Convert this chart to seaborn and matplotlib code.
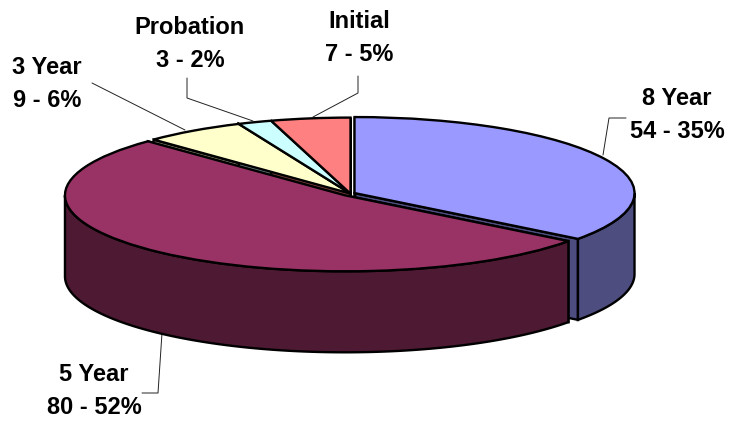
import numpy as np
import matplotlib
matplotlib.use('Agg')
import matplotlib.pyplot as plt
import seaborn as sns

# --- data ---
categories = ['8 Year', '5 Year', '3 Year', 'Probation', 'Initial']
counts = [54, 80, 9, 3, 7]
percents = [35, 52, 6, 2, 5]

top_colors = ['#9999FF', '#993366', '#FFFFCC', '#CCFFFF', '#FF8080']
side_colors = ['#4D4D80', '#4D1933', '#808066', '#668080', '#804040']
explode = [0.016, 0.03, 0, 0, 0]

label_centers = [(677, 115), (94, 391), (47, 84), (190, 44), (359, 38)]
leaders = [
    [(603, 155), (609, 118), (626, 118)],
    [(162, 333), (158, 393), (142, 393)],
    [(92, 83), (185, 130)],
    [(187, 78), (187, 98), (253, 121)],
    [(358, 76), (358, 93), (313, 117)],
]

# pie geometry in image pixels
cx, cy = 350.5, 193.6
rx, ry = 280, 76
depth = 81 / ry


def px(x, y):
    return (x - cx) / rx, (cy - y) / ry


sns.set_theme(style='white')
plt.rcParams['font.family'] = ['Liberation Sans', 'DejaVu Sans']

fig = plt.figure(figsize=(7.3, 4.21), dpi=100, facecolor='white')
ax = fig.add_axes([0, 0, 1, 1])

wedges, _ = ax.pie(counts, colors=top_colors, explode=explode, startangle=90,
                   counterclock=False, radius=1,
                   wedgeprops={'edgecolor': 'black', 'linewidth': 1.7, 'zorder': 5})

# squash the pie into an ellipse by scaling the axes
ax.set_aspect('auto')
ax.set_xlim(-cx / rx, (730 - cx) / rx)
ax.set_ylim((cy - 421) / ry, cy / ry)
ax.axis('off')

# cut faces of the slices
for w, color in zip(wedges, side_colors):
    x0, y0 = w.center
    for theta in (w.theta1, w.theta2):
        x1 = x0 + np.cos(np.radians(theta))
        y1 = y0 + np.sin(np.radians(theta))
        ax.fill([x0, x1, x1, x0], [y0, y1, y1 - depth, y0 - depth],
                facecolor=color, edgecolor='black', linewidth=1.7, zorder=2)

# outer rim, only the part facing the viewer
for w, color in zip(wedges, side_colors):
    x0, y0 = w.center
    t = np.radians(np.linspace(w.theta1, w.theta2, 200))
    t = t[np.sin(t) <= 0]
    if len(t) == 0:
        continue
    xs = x0 + np.cos(t)
    ys = y0 + np.sin(t)
    ax.fill(np.r_[xs, xs[::-1]], np.r_[ys, ys[::-1] - depth],
            facecolor=color, edgecolor='black', linewidth=1.7, zorder=3)

# leader lines
for pts in leaders:
    xy = np.array([px(*p) for p in pts])
    ax.plot(xy[:, 0], xy[:, 1], color='#222222', linewidth=0.7, zorder=1)

# labels
for name, n, pct, pos in zip(categories, counts, percents, label_centers):
    x, y = px(*pos)
    ax.text(x, y, f'{name}\n{n} - {pct}%', ha='center', va='center',
            fontsize=17, fontweight='bold', color='black', linespacing=1.6,
            zorder=6)

fig.savefig('out.png', dpi=100, facecolor='white')
